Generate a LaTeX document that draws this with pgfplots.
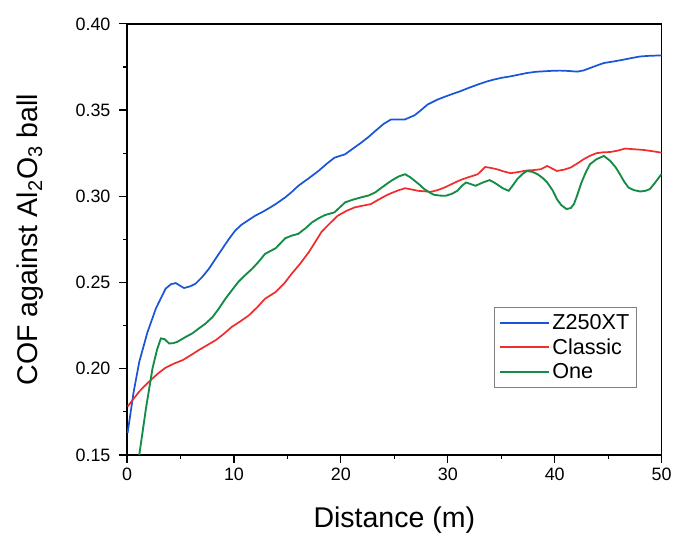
\documentclass[border=0pt]{standalone}
\usepackage{fontspec}
\setmainfont{Liberation Sans}
\usepackage{pgfplots}
\pgfplotsset{compat=1.18}
\definecolor{cblue}{RGB}{25,85,215}
\definecolor{cred}{RGB}{240,45,45}
\definecolor{cgreen}{RGB}{20,140,70}
\begin{document}
\begin{tikzpicture}
\begin{axis}[
  name=ax,
  scale only axis, width=403pt, height=325pt,
  xmin=0, xmax=50, ymin=0.15, ymax=0.40,
  xtick={0,10,...,50}, minor xtick={5,15,...,45},
  ytick={0.15,0.20,...,0.41}, minor ytick={0.175,0.225,...,0.38},
  tick align=outside, xtick pos=bottom, ytick pos=left,
  major tick length=6pt, minor tick length=3pt,
  every tick/.style={black, line width=0.9pt},
  axis line style={line width=1pt},
  /pgf/number format/assume math mode=true,
  yticklabel style={/pgf/number format/fixed, /pgf/number format/fixed zerofill, /pgf/number format/precision=2, font=\fontsize{13.5pt}{15pt}\selectfont, xshift=-3pt},
  xticklabel style={font=\fontsize{13.5pt}{15pt}\selectfont},
  scaled y ticks=false,
  xlabel={Distance (m)},
  ylabel={COF against Al\textsubscript{2}O\textsubscript{3} ball},
  xlabel style={at={(axis description cs:0.5,-0.152)}, anchor=center, font=\fontsize{21.5pt}{25pt}\selectfont},
  ylabel style={at={(axis description cs:-0.181,0.5)}, anchor=center, font=\fontsize{21.5pt}{25pt}\selectfont},
  legend style={at={(0.9527,0.156)}, anchor=south east, draw=gray, line width=0.6pt, font=\fontsize{16.3pt}{19pt}\selectfont, row sep=1.5pt, inner sep=3pt},
  legend cell align=left,
  legend image code/.code={\draw[#1, line width=1.5pt] (0pt,0pt) -- (37pt,0pt);},
  clip=true,
]
\addplot[cblue, line width=1.3pt] coordinates {
(0.05,0.1627)(0.6,0.186)(1.14,0.204)(1.9,0.221)(2.7,0.235)(3.6,0.2464)(4.1,0.249)(4.56,0.2497)(5.0,0.248)(5.33,0.2468)(5.9,0.2478)(6.4,0.2493)(7.0,0.253)(7.66,0.258)(8.3,0.264)(8.9,0.2695)(9.5,0.275)(10.1,0.280)(10.7,0.2835)(11.4,0.2864)(12.0,0.2888)(12.6,0.2907)(13.3,0.2932)(13.9,0.2955)(14.8,0.2994)(15.4,0.3025)(16.0,0.306)(17.0,0.3105)(17.9,0.3147)(18.7,0.319)(19.4,0.3224)(20.4,0.3244)(21.2,0.328)(21.9,0.3311)(22.6,0.3345)(23.2,0.3378)(24.0,0.342)(24.7,0.3446)(26.0,0.3446)(26.9,0.347)(27.5,0.350)(28.1,0.3532)(29.0,0.356)(29.7,0.3577)(30.5,0.3595)(31.2,0.361)(32.0,0.363)(32.8,0.3648)(33.6,0.3665)(34.3,0.3677)(35.1,0.3688)(35.9,0.3696)(36.6,0.3705)(37.4,0.3715)(38.2,0.3722)(39.0,0.3725)(39.8,0.3728)(40.5,0.3729)(41.3,0.3727)(42.1,0.3723)(42.7,0.373)(43.3,0.3744)(44.0,0.376)(44.6,0.3773)(45.5,0.3782)(46.4,0.3792)(47.2,0.3802)(48.0,0.3811)(48.9,0.3815)(50.0,0.3817)
};
\addlegendentry{Z250XT}
\addplot[cred, line width=1.3pt] coordinates {
(0.05,0.1781)(0.6,0.1825)(1.14,0.1868)(1.8,0.191)(2.4,0.1945)(3.0,0.1978)(3.6,0.2006)(4.4,0.203)(5.2,0.205)(6.0,0.208)(6.7,0.2108)(7.5,0.2137)(8.3,0.2166)(9.0,0.220)(9.8,0.2243)(10.6,0.2275)(11.4,0.231)(12.2,0.2358)(12.9,0.2406)(13.9,0.2445)(14.7,0.2495)(15.4,0.2551)(16.2,0.261)(17.0,0.2676)(17.6,0.2735)(18.2,0.2795)(19.0,0.2845)(19.7,0.2887)(20.5,0.2915)(21.3,0.2936)(22.0,0.2945)(22.8,0.2955)(23.5,0.298)(24.3,0.3007)(24.7,0.3018)(25.3,0.3033)(26.0,0.3047)(26.6,0.304)(27.2,0.3032)(28.4,0.3026)(29.0,0.3035)(29.7,0.3051)(30.5,0.3075)(31.2,0.3095)(32.0,0.3112)(32.8,0.3128)(33.5,0.317)(34.0,0.3165)(34.6,0.3157)(35.3,0.3143)(35.9,0.3134)(36.7,0.3142)(37.4,0.315)(38.0,0.3152)(38.7,0.3157)(39.3,0.3176)(39.8,0.316)(40.2,0.3147)(40.9,0.3155)(41.5,0.3167)(42.1,0.319)(42.7,0.3215)(43.3,0.3235)(43.9,0.325)(44.5,0.3255)(45.2,0.3257)(45.9,0.3265)(46.6,0.3277)(47.4,0.3273)(48.3,0.3269)(49.1,0.3262)(50.0,0.3253)
};
\addlegendentry{Classic}
\addplot[cgreen, line width=1.4pt] coordinates {
(0.9,0.135)(1.14,0.15)(1.77,0.1771)(2.38,0.2002)(2.8,0.211)(3.16,0.2176)(3.5,0.2172)(3.93,0.2147)(4.3,0.2148)(4.7,0.2156)(5.5,0.2185)(6.1,0.2205)(6.7,0.2233)(7.3,0.226)(8.0,0.23)(8.6,0.235)(9.2,0.2406)(9.8,0.2455)(10.4,0.2503)(11.0,0.254)(11.7,0.258)(12.3,0.262)(12.9,0.2666)(13.9,0.2699)(14.8,0.2757)(15.4,0.2772)(16.0,0.2782)(16.7,0.2815)(17.3,0.2849)(17.9,0.2872)(18.5,0.2891)(19.4,0.2907)(20.4,0.2965)(21.1,0.298)(21.9,0.2994)(22.6,0.3005)(23.2,0.3022)(23.8,0.305)(24.7,0.309)(25.4,0.3115)(26.0,0.3128)(26.5,0.311)(26.9,0.309)(27.4,0.3065)(27.8,0.3042)(28.3,0.3022)(28.7,0.3009)(29.3,0.3004)(29.8,0.3003)(30.4,0.3015)(30.9,0.3032)(31.3,0.306)(31.7,0.308)(32.1,0.3072)(32.6,0.3061)(33.2,0.3078)(33.9,0.3094)(34.4,0.3078)(34.8,0.3061)(35.2,0.3045)(35.7,0.3032)(36.1,0.3065)(36.5,0.31)(37.0,0.313)(37.4,0.3147)(37.9,0.3142)(38.4,0.3128)(38.9,0.3105)(39.3,0.308)(39.8,0.3035)(40.2,0.2984)(40.6,0.295)(41.1,0.2926)(41.5,0.2932)(41.8,0.2955)(42.1,0.3005)(42.5,0.308)(42.9,0.3138)(43.3,0.3186)(43.9,0.3215)(44.6,0.3234)(45.2,0.3205)(45.7,0.3168)(46.1,0.3128)(46.5,0.3085)(46.9,0.3051)(47.4,0.3036)(48.0,0.3028)(48.5,0.3032)(48.9,0.3042)(49.4,0.308)(50.0,0.313)
};
\addlegendentry{One}
\end{axis}
\path (ax.south west) ++(-95.8pt,-62.25pt) coordinate (bl);
\path (ax.north east) ++(8.25pt,18pt) coordinate (tr);
\path (bl) rectangle (tr);
\end{tikzpicture}
\end{document}
